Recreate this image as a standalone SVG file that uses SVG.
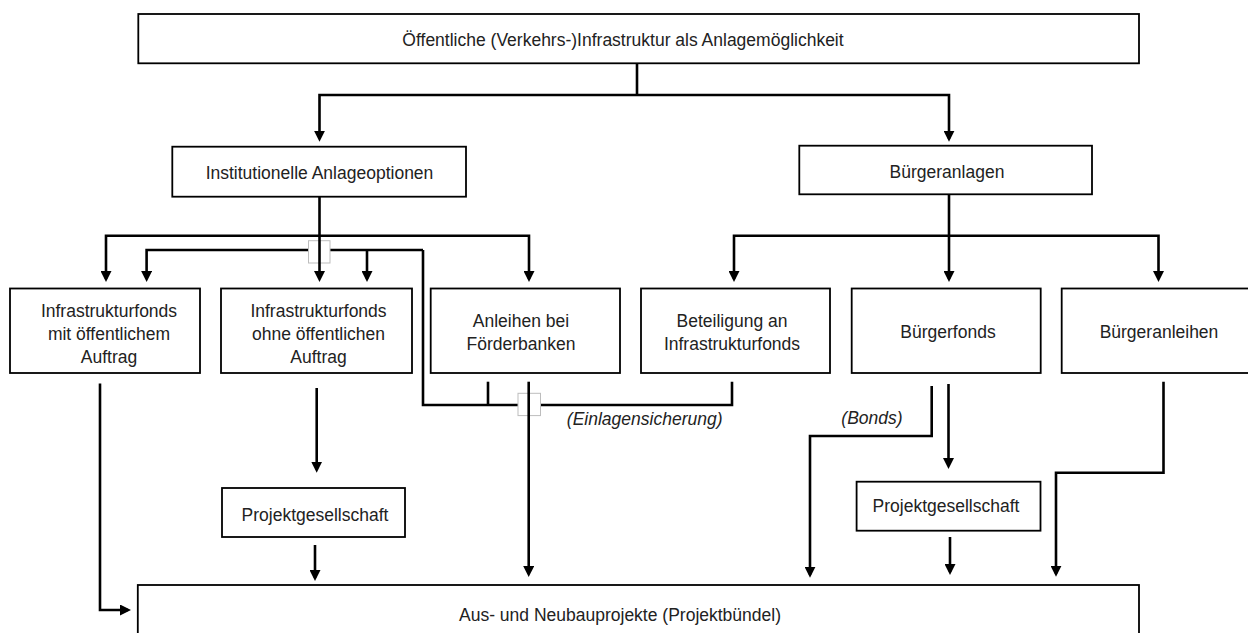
<svg xmlns="http://www.w3.org/2000/svg" width="1248" height="633" viewBox="0 0 1248 633">
<style>
.box{fill:#fff;stroke:#000;stroke-width:1.8}
.t{font-family:"Liberation Sans",Arial,sans-serif;font-size:17.5px;fill:#222;text-anchor:middle}
.it{font-style:italic}
.c{fill:none;stroke:#000;stroke-width:2.6;stroke-linejoin:miter}
.jump{fill:#fff;stroke:#bdbdbd;stroke-width:1}
</style>
<defs>
<marker id="ah" markerUnits="userSpaceOnUse" viewBox="0 0 11 11" markerWidth="11" markerHeight="11" refX="8" refY="5.5" orient="auto">
<path d="M0,0 L11,5.5 L0,11 z" fill="#000"/>
</marker>
</defs>
<rect width="1248" height="633" fill="#fff"/>

<g id="connectors">
<path class="c" d="M637,64 V95"/>
<path class="c" d="M637,95 H319.5 V138.7" marker-end="url(#ah)"/>
<path class="c" d="M637,95 H949 V138.7" marker-end="url(#ah)"/>

<path class="c" d="M423,250 H146.6 V279" marker-end="url(#ah)"/>
<path class="c" d="M367,250 V279" marker-end="url(#ah)"/>
<path class="c" d="M423,250 V405 H732 V381.7"/>
<path class="c" d="M488,381.7 V405"/>
<rect class="jump" x="308.5" y="240.7" width="21.5" height="22.3"/>
<rect class="jump" x="518" y="393.3" width="22.5" height="22.3"/>

<path class="c" d="M319.5,197 V279" marker-end="url(#ah)"/>
<path class="c" d="M319.5,235.7 H106 V279" marker-end="url(#ah)"/>
<path class="c" d="M319.5,235.7 H529 V279" marker-end="url(#ah)"/>

<path class="c" d="M949,195 V279" marker-end="url(#ah)"/>
<path class="c" d="M949,235.7 H734 V279" marker-end="url(#ah)"/>
<path class="c" d="M949,235.7 H1158.5 V279" marker-end="url(#ah)"/>

<path class="c" d="M100,383.5 V610 H128" marker-end="url(#ah)"/>
<path class="c" d="M316.7,388 V469.7" marker-end="url(#ah)"/>
<path class="c" d="M315,545 V578" marker-end="url(#ah)"/>
<path class="c" d="M528.7,381.7 V574" marker-end="url(#ah)"/>
<path class="c" d="M931.7,386 V436 H810 V574.7" marker-end="url(#ah)"/>
<path class="c" d="M948.5,384 V466" marker-end="url(#ah)"/>
<path class="c" d="M950,537 V572" marker-end="url(#ah)"/>
<path class="c" d="M1163.5,381.7 V472.7 H1056 V573.7" marker-end="url(#ah)"/>

<text class="t it" x="644.7" y="425">(Einlagensicherung)</text>
<text class="t it" x="872" y="424">(Bonds)</text>
</g>

<g id="n-top">
<rect class="box" x="138.3" y="14" width="1000.7" height="49.3"/>
<text class="t" x="623" y="46">Öffentliche (Verkehrs-)Infrastruktur als Anlagemöglichkeit</text>
</g>

<g id="n-institutionell">
<rect class="box" x="172.3" y="146.7" width="293.7" height="50"/>
<text class="t" x="319.5" y="179">Institutionelle Anlageoptionen</text>
</g>

<g id="n-buergeranlagen">
<rect class="box" x="799.3" y="145.7" width="292.7" height="48.6"/>
<text class="t" x="947" y="178">Bürgeranlagen</text>
</g>

<g id="n-fonds-mit">
<rect class="box" x="10" y="288.5" width="190" height="84.5"/>
<text class="t" x="109" y="317">Infrastrukturfonds</text>
<text class="t" x="109" y="340">mit öffentlichem</text>
<text class="t" x="109" y="363">Auftrag</text>
</g>

<g id="n-fonds-ohne">
<rect class="box" x="221" y="288.5" width="191" height="84.5"/>
<text class="t" x="318.5" y="317">Infrastrukturfonds</text>
<text class="t" x="318.5" y="340">ohne öffentlichen</text>
<text class="t" x="318.5" y="363">Auftrag</text>
</g>

<g id="n-anleihen-foerder">
<rect class="box" x="430.7" y="288.5" width="189.3" height="84.5"/>
<text class="t" x="521" y="327">Anleihen bei</text>
<text class="t" x="521" y="349.5">Förderbanken</text>
</g>

<g id="n-beteiligung">
<rect class="box" x="641" y="288.5" width="189" height="84.5"/>
<text class="t" x="732" y="327">Beteiligung an</text>
<text class="t" x="732" y="349.5">Infrastrukturfonds</text>
</g>

<g id="n-buergerfonds">
<rect class="box" x="851.7" y="288.5" width="189" height="84.5"/>
<text class="t" x="948" y="338">Bürgerfonds</text>
</g>

<g id="n-buergeranleihen">
<rect class="box" x="1061.7" y="288.5" width="195" height="84.5"/>
<text class="t" x="1159" y="338">Bürgeranleihen</text>
</g>

<g id="n-projekt1">
<rect class="box" x="222" y="488" width="183" height="49"/>
<text class="t" x="315" y="521">Projektgesellschaft</text>
</g>

<g id="n-projekt2">
<rect class="box" x="856.6" y="481.7" width="183.9" height="49"/>
<text class="t" x="946" y="512">Projektgesellschaft</text>
</g>

<g id="n-bottom">
<rect class="box" x="137.8" y="585" width="1001.2" height="70"/>
<text class="t" x="620" y="621">Aus- und Neubauprojekte (Projektbündel)</text>
</g>
</svg>
